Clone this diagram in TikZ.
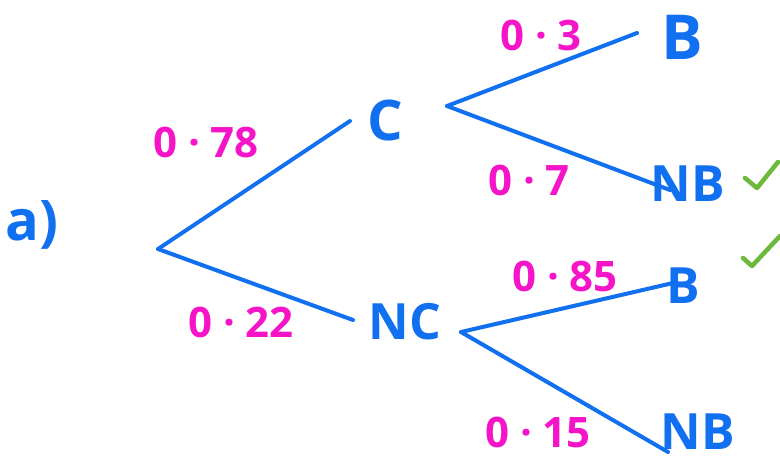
\documentclass[tikz,border=0pt]{standalone}
\usepackage{fontspec}
\setmainfont{Open Sans}
\usepackage{tikz}
\usetikzlibrary{positioning,calc}
\definecolor{inkblue}{RGB}{16,112,240}
\definecolor{inkpink}{RGB}{245,20,200}
\definecolor{inkgreen}{RGB}{110,185,60}
\newcommand{\pdot}{\hspace{0.25em}·\hspace{0.25em}}
\tikzset{
  outcome/.style={text=inkblue,font=\fontsize{50}{50}\selectfont\bfseries,inner sep=1pt},
  prob/.style={text=inkpink,font=\fontsize{42}{42}\selectfont\bfseries,inner sep=0pt},
  branch/.style={draw=inkblue,line width=4pt,line cap=round},
  tick/.style={draw=inkgreen,line width=4.5pt,line cap=round,line join=round},
}

\begin{document}
\begin{tikzpicture}[x=1pt,y=-1pt]
    \useasboundingbox (0,0) rectangle (780,464);

    \node[outcome,font=\fontsize{56}{56}\selectfont\bfseries] (part) at (32,225) {a)};
    \coordinate (root) at (158,249);

    % first stage
    \node[outcome,font=\fontsize{56}{56}\selectfont\bfseries] (c)  at (385,120) {C};
    \node[outcome] (nc) at (405,322) {NC};
    \coordinate (cend)  at (350,121);
    \coordinate (ncend) at (353,320);
    \draw[branch] (root) -- (cend);
    \draw[branch] (root) -- (ncend);

    \node[prob] (pc)  at (206,142) {0\pdot 78};
    \node[prob] (pnc) at (241,322) {0\pdot 22};

    % second stage after C
    \coordinate (cfork)  at (447,106);
    \coordinate (cbend)  at (637,33);
    \coordinate (cnbend) at (670,190);
    \node[outcome,font=\fontsize{62}{62}\selectfont\bfseries] (cb)  at (682,37)  {B};
    \node[outcome] (cnb) at (688,184) {NB};
    \draw[branch] (cfork) -- (cbend);
    \draw[branch] (cfork) -- (cnbend);
    \node[prob] (pcb)  at (541,35)  {0\pdot 3};
    \node[prob] (pcnb) at (529,180) {0\pdot 7};

    % second stage after NC
    \coordinate (ncfork)  at (461,332);
    \coordinate (ncbend)  at (673,283);
    \coordinate (ncnbend) at (668,452);
    \node[outcome] (ncb)  at (683,286) {B};
    \node[outcome] (ncnb) at (698,432) {NB};
    \draw[branch] (ncfork) -- (ncbend);
    \draw[branch] (ncfork) -- (ncnbend);
    \node[prob] (pncb)  at (565,276) {0\pdot 85};
    \node[prob] (pncnb) at (538,432) {0\pdot 15};

    % ticks
    \draw[tick] (745,178) -- (757,188) -- (778,162);
    \draw[tick] (743,258) -- (752,266) -- (780,236);
\end{tikzpicture}
\end{document}
